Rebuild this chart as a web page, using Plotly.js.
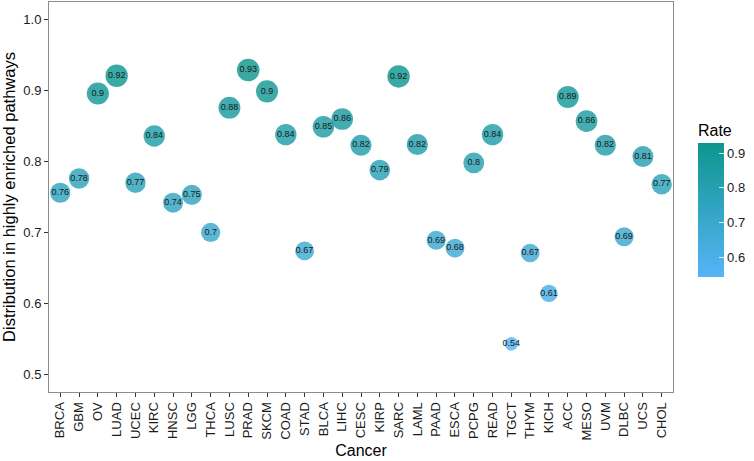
<!DOCTYPE html>
<html>
<head>
<meta charset="utf-8">
<script src="https://cdn.plot.ly/plotly-3.0.1.min.js"></script>
<style>html,body{margin:0;padding:0;background:#fff}#chart{width:754px;height:461px}</style>
</head>
<body>
<div id="chart"></div>
<script>
const cancers = ["BRCA","GBM","OV","LUAD","UCEC","KIRC","HNSC","LGG","THCA","LUSC","PRAD","SKCM","COAD","STAD","BLCA","LIHC","CESC","KIRP","SARC","LAML","PAAD","ESCA","PCPG","READ","TGCT","THYM","KICH","ACC","MESO","UVM","DLBC","UCS","CHOL"];
const rates = [0.756,0.776,0.896,0.921,0.770,0.836,0.742,0.753,0.700,0.876,0.929,0.899,0.838,0.674,0.849,0.860,0.823,0.788,0.920,0.824,0.689,0.678,0.798,0.838,0.543,0.671,0.614,0.891,0.857,0.823,0.694,0.807,0.768];
const yTicks = [0.5,0.6,0.7,0.8,0.9,1.0];
const barTicks = [0.6,0.7,0.8,0.9];

const vmin = Math.min(...rates), vmax = Math.max(...rates);
const sizes = rates.map(v => 13.5 + 9 * Math.sqrt((v - vmin) / (vmax - vmin)));
const labels = rates.map(v => String(Math.round(v * 100) / 100));

const font = "Liberation Sans, Arial, sans-serif";
const trace = {
  type: "scatter",
  mode: "markers+text",
  x: cancers,
  y: rates,
  text: labels,
  textposition: "middle center",
  textfont: {family: font, size: 9, color: "#1a1a1a"},
  marker: {
    size: sizes,
    sizemode: "diameter",
    color: rates,
    cmin: vmin,
    cmax: vmax,
    opacity: 0.82,
    line: {width: 0},
    colorscale: [[0, "#56B4F7"], [1, "#0E968E"]],
    showscale: true,
    colorbar: {
      title: {text: "Rate", side: "top", font: {family: font, size: 16, color: "#000"}},
      thickness: 26,
      len: 156,
      lenmode: "pixels",
      x: 1.040,
      xanchor: "left",
      y: 0.495,
      yanchor: "middle",
      xpad: 0,
      ypad: 0,
      outlinewidth: 0,
      tickvals: barTicks,
      ticktext: barTicks.map(String),
      ticks: "inside",
      ticklen: 5,
      tickcolor: "rgba(255,255,255,0.8)",
      tickfont: {family: font, size: 13, color: "#1a1a1a"}
    }
  },
  hoverinfo: "x+y",
  cliponaxis: false
};

const layout = {
  width: 754,
  height: 461,
  margin: {l: 49, r: 81, t: 2, b: 69},
  paper_bgcolor: "#fff",
  plot_bgcolor: "#fff",
  showlegend: false,
  xaxis: {
    type: "category",
    categoryorder: "array",
    categoryarray: cancers,
    range: [-0.6, cancers.length - 0.4],
    showgrid: false,
    zeroline: false,
    showline: true,
    mirror: true,
    linecolor: "#8c8c8c",
    linewidth: 1,
    ticks: "outside",
    ticklen: 4,
    tickcolor: "#333",
    tickangle: -90,
    tickfont: {family: font, size: 13, color: "#1a1a1a"},
    title: {text: "Cancer", font: {family: font, size: 16, color: "#000"}, standoff: 5}
  },
  yaxis: {
    range: [0.475, 1.025],
    tickvals: yTicks,
    ticktext: yTicks.map(v => v.toFixed(1)),
    showgrid: false,
    zeroline: false,
    showline: true,
    mirror: true,
    linecolor: "#8c8c8c",
    linewidth: 1,
    ticks: "outside",
    ticklen: 4,
    tickcolor: "#333",
    tickfont: {family: font, size: 13, color: "#1a1a1a"},
    title: {text: "Distribution in highly enriched pathways", font: {family: font, size: 16.5, color: "#000"}, standoff: 5}
  }
};

Plotly.newPlot("chart", [trace], layout, {displayModeBar: false, staticPlot: true});
</script>
</body>
</html>
